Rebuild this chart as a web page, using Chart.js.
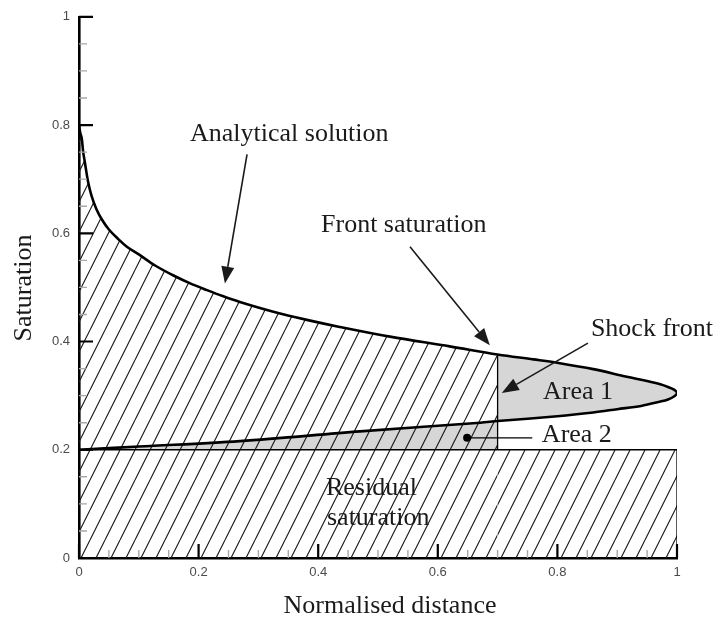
<!DOCTYPE html>
<html>
<head>
<meta charset="utf-8">
<script src="https://cdn.jsdelivr.net/npm/chart.js@4.4.1/dist/chart.umd.min.js"></script>
<style>
  html, body { margin: 0; padding: 0; background: #fff; }
  #plot { display: block; }
</style>
</head>
<body>
<canvas id="plot" width="719" height="621"></canvas>
<script>
/* Saturation profile: analytical solution, shock front at x = 0.7, residual saturation 0.2 */

// upper branch of the analytical solution, x = 0 → tip
const upperX = [0, 0.002, 0.0045, 0.007, 0.010, 0.015, 0.021, 0.029, 0.038, 0.050, 0.065, 0.080, 0.100,
  0.128, 0.158, 0.185, 0.214, 0.240, 0.269, 0.325, 0.381, 0.436, 0.520, 0.620, 0.700,
  0.760, 0.804, 0.860, 0.916, 0.950, 0.972, 0.985, 0.995, 1.0];
const upperS = [0.800, 0.786, 0.776, 0.750, 0.730, 0.696, 0.669, 0.645, 0.626, 0.607, 0.590, 0.575, 0.561,
  0.540, 0.522, 0.508, 0.495, 0.484, 0.473, 0.455, 0.440, 0.427, 0.409, 0.391, 0.376,
  0.367, 0.360, 0.349, 0.335, 0.327, 0.321, 0.316, 0.311, 0.305];

// lower branch, x = 0 → tip
const lowerX = [0, 0.100, 0.269, 0.470, 0.671, 0.700, 0.800, 0.860, 0.900, 0.940, 0.972, 0.985, 0.995, 1.0];
const lowerS = [0.200, 0.206, 0.216, 0.234, 0.250, 0.253, 0.262, 0.269, 0.275, 0.281, 0.289, 0.293, 0.2985, 0.305];

const frontX = 0.7;          // shock front position
const residualS = 0.2;       // residual saturation
const area2Mark = [0.649, 0.222];
const area2Leader = 0.758;

const xTicks = [0, 0.2, 0.4, 0.6, 0.8, 1];
const yTicks = [0, 0.2, 0.4, 0.6, 0.8, 1];
const minorStep = 0.05;

const SERIF = '"Liberation Serif", "Times New Roman", serif';
const SANS = '"Liberation Sans", Arial, sans-serif';
const GREY = '#d6d6d6';
const SMOOTH = 0.35;

const pts = (xs, ys) => xs.map((x, i) => ({ x: x, y: ys[i] }));
const upper = pts(upperX, upperS);
const lower = pts(lowerX, lowerS);
const frontS = upperS[upperX.indexOf(frontX)];
const upToFront = upper.filter(function (p) { return p.x <= frontX; });

// closed curve: down the upper branch to the tip, back along the lower one
const solution = upper.concat(lower.slice(0, -1).reverse());

const canvas = document.getElementById('plot');
const ctx0 = canvas.getContext('2d');

function hatch() {
  const c = document.createElement('canvas');
  c.width = 15; c.height = 30;
  const g = c.getContext('2d');
  g.strokeStyle = '#1c1c1c';
  g.lineWidth = 1.15;
  g.beginPath();
  [-15, 0, 15].forEach(function (dx) { g.moveTo(dx, 30); g.lineTo(dx + 15, 0); });
  g.stroke();
  return ctx0.createPattern(c, 'repeat');
}
const HATCH = hatch();

function line(data, width, extra) {
  return Object.assign({
    data: data, showLine: true, fill: false, pointRadius: 0, tension: 0,
    borderColor: '#000', borderWidth: width, backgroundColor: 'rgba(0,0,0,0)'
  }, extra || {});
}
function area(data, fill, bg, tension) {
  return line(data, 0, { fill: fill, backgroundColor: bg, borderColor: 'rgba(0,0,0,0)', tension: tension || 0 });
}

const labels = [
  ['Analytical solution', 0.1856, 0.7713],
  ['Front saturation', 0.4047, 0.6024],
  ['Shock front', 0.856, 0.4096],
  ['Area 1', 0.776, 0.2938],
  ['Area 2', 0.774, 0.2149],
  ['Residual', 0.413, 0.1157],
  ['saturation', 0.4147, 0.0606]
];
const arrows = [
  [0.281, 0.746, 0.244, 0.507],
  [0.5535, 0.575, 0.687, 0.393],
  [0.851, 0.397, 0.707, 0.305]
];

/* inward ticks (major black, minor grey) and axis titles */
const axisTicks = {
  id: 'axisTicks',
  afterDraw: function (chart) {
    const ctx = chart.ctx, a = chart.chartArea;
    const sx = chart.scales.x, sy = chart.scales.y;
    ctx.save();
    for (let i = 0; i * minorStep <= 1 + 1e-9; i++) {
      const v = i * minorStep;
      const major = i % 4 === 0;
      ctx.strokeStyle = major ? '#000' : '#a8a8a8';
      ctx.lineWidth = major ? 2.2 : 1.4;
      const len = major ? 14 : 8;
      const px = sx.getPixelForValue(v), py = sy.getPixelForValue(v);
      ctx.beginPath();
      ctx.moveTo(px, a.bottom); ctx.lineTo(px, a.bottom - len);
      ctx.moveTo(a.left, py); ctx.lineTo(a.left + len, py);
      ctx.stroke();
    }
    ctx.fillStyle = '#1a1a1a';
    ctx.font = '26px ' + SERIF;
    ctx.textAlign = 'center';
    ctx.textBaseline = 'alphabetic';
    ctx.fillText('Normalised distance', 390, 613);
    ctx.translate(31, 288);
    ctx.rotate(-Math.PI / 2);
    ctx.fillText('Saturation', 0, 0);
    ctx.restore();
  }
};

/* text labels and arrows */
const notes = {
  id: 'notes',
  afterDatasetsDraw: function (chart) {
    const ctx = chart.ctx;
    const X = function (v) { return chart.scales.x.getPixelForValue(v); };
    const Y = function (v) { return chart.scales.y.getPixelForValue(v); };
    ctx.save();
    ctx.fillStyle = '#1a1a1a';
    ctx.strokeStyle = '#1a1a1a';
    ctx.font = '26px ' + SERIF;
    ctx.textAlign = 'left';
    ctx.textBaseline = 'alphabetic';
    labels.forEach(function (l) { ctx.fillText(l[0], X(l[1]), Y(l[2])); });

    arrows.forEach(function (r) {
      const x0 = X(r[0]), y0 = Y(r[1]), x1 = X(r[2]), y1 = Y(r[3]);
      const ang = Math.atan2(y1 - y0, x1 - x0);
      const hl = 17, hw = 6.5;
      const bx = x1 - hl * Math.cos(ang), by = y1 - hl * Math.sin(ang);
      ctx.lineWidth = 1.6;
      ctx.beginPath();
      ctx.moveTo(x0, y0); ctx.lineTo(bx, by);
      ctx.stroke();
      ctx.beginPath();
      ctx.moveTo(x1, y1);
      ctx.lineTo(bx + hw * Math.sin(ang), by - hw * Math.cos(ang));
      ctx.lineTo(bx - hw * Math.sin(ang), by + hw * Math.cos(ang));
      ctx.closePath();
      ctx.fill();
    });
    ctx.restore();
  }
};

function axis(ticks, extra) {
  return Object.assign({
    type: 'linear', min: 0, max: 1, z: 1,
    grid: { display: false, drawTicks: false },
    border: { display: true, color: '#000', width: 2.6 },
    afterBuildTicks: function (s) { s.ticks = ticks.map(function (v) { return { value: v }; }); }
  }, extra);
}
function tickFont(pad) {
  return {
    font: { family: SANS, size: 13 }, color: '#4a4a4a', padding: pad, maxRotation: 0,
    callback: function (v) { return String(Math.round(v * 10) / 10); }
  };
}

new Chart(canvas, {
  type: 'scatter',
  data: {
    datasets: [
      line(solution, 2.6, { tension: SMOOTH }),
      line([{ x: area2Mark[0], y: area2Mark[1] }, { x: area2Leader, y: area2Mark[1] }], 1.3,
        { pointRadius: [4, 0], pointBackgroundColor: '#000', pointBorderWidth: 0 }),
      line([{ x: frontX, y: residualS }, { x: frontX, y: frontS }], 1.3),
      line([{ x: 0, y: residualS }, { x: 1, y: residualS }, { x: 1, y: 0 }], 1.3),
      // hatched: under the solution up to the front, and the residual block
      area(upToFront, 'origin', HATCH, SMOOTH),
      area([{ x: frontX, y: residualS }, { x: 1, y: residualS }], 'origin', HATCH),
      // grey: Area 2 below the lower branch, Area 1 ahead of the front
      area(lower.filter(function (p) { return p.x <= frontX; }), { value: residualS }, GREY, SMOOTH),
      area(upper.filter(function (p) { return p.x >= frontX; }), '+1', GREY, SMOOTH),
      area(lower.filter(function (p) { return p.x >= frontX; }), false, 'rgba(0,0,0,0)', SMOOTH)
    ]
  },
  options: {
    responsive: false,
    animation: false,
    layout: { padding: { top: 13, right: 42, left: 0, bottom: 0 } },
    plugins: { legend: { display: false }, tooltip: { enabled: false } },
    scales: {
      x: axis(xTicks, { position: 'bottom', afterFit: function (s) { s.height = 63; }, ticks: tickFont(7) }),
      y: axis(yTicks, { position: 'left', afterFit: function (s) { s.width = 79; }, ticks: tickFont(9) })
    }
  },
  plugins: [notes, axisTicks]
});
</script>
</body>
</html>
